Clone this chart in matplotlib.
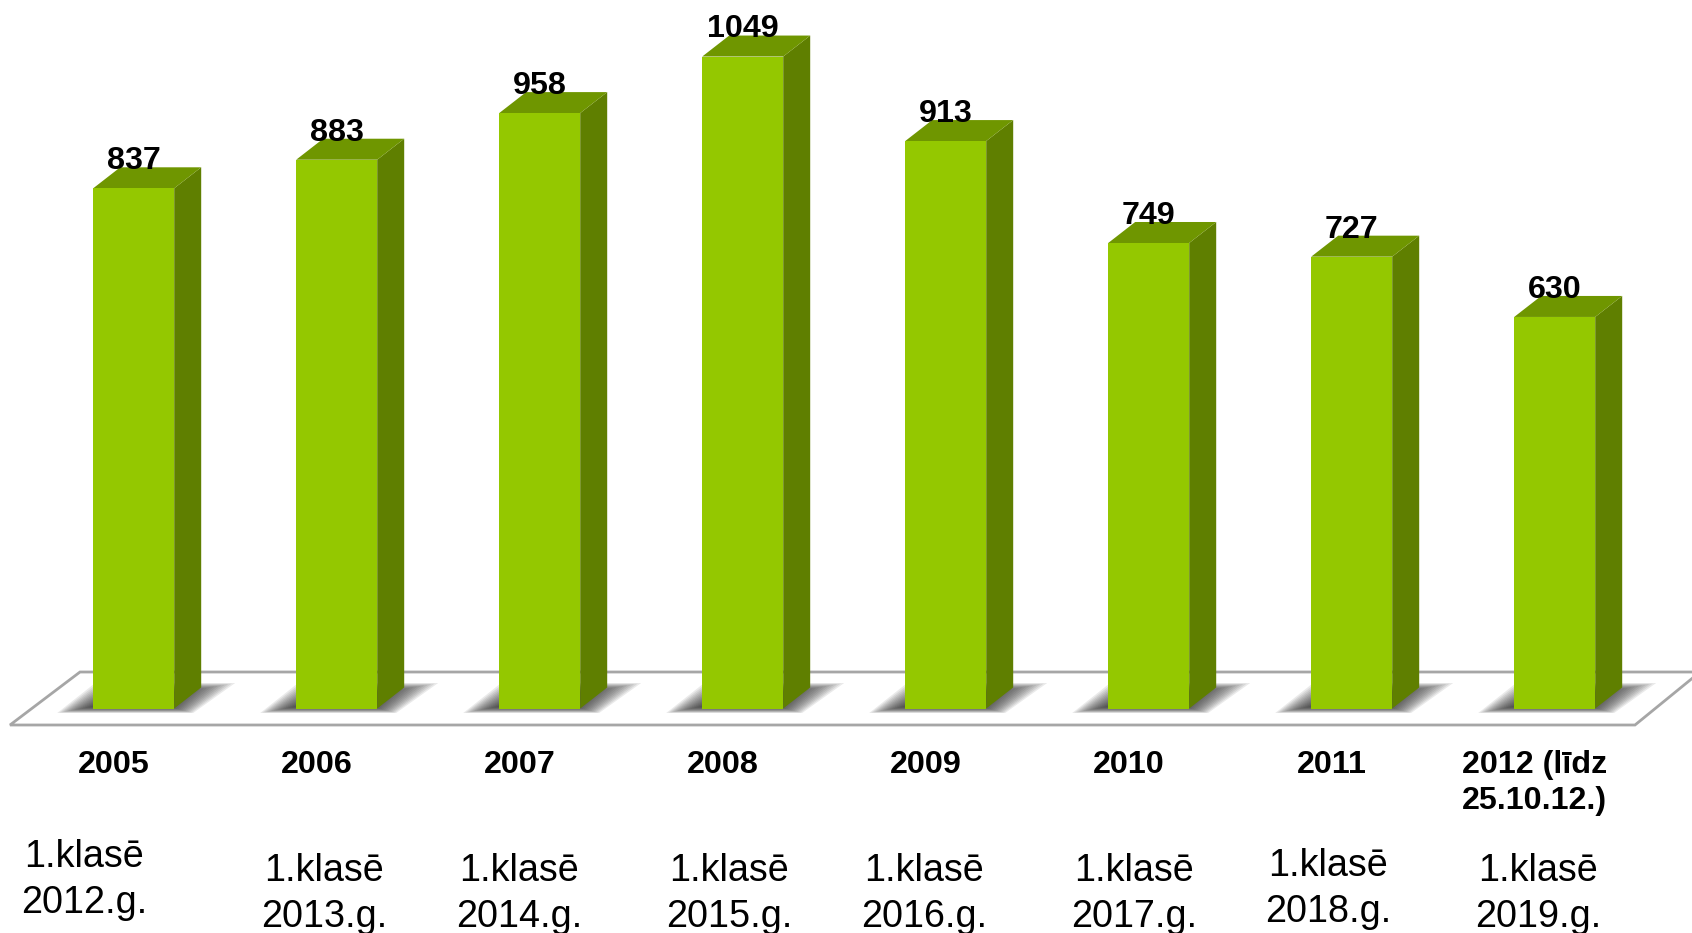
import matplotlib
matplotlib.use('Agg')
import matplotlib.pyplot as plt
from matplotlib.patches import Polygon

plt.rcParams['font.family'] = ['Liberation Sans', 'DejaVu Sans']

W, H = 1692, 933

years = ['2005', '2006', '2007', '2008', '2009', '2010', '2011', '2012 (līdz\n25.10.12.)']
values = [837, 883, 958, 1049, 913, 749, 727, 630]
notes = ['1.klasē\n2012.g.', '1.klasē\n2013.g.', '1.klasē\n2014.g.', '1.klasē\n2015.g.',
         '1.klasē\n2016.g.', '1.klasē\n2017.g.', '1.klasē\n2018.g.', '1.klasē\n2019.g.']

# pixel scales of the plot
x0, x_step = 133.7, 203.0
y0, y_scale = 708.5, 0.6215
bar_w = 81.0 / x_step
dx, dy = 27.0 / x_step, 21.0 / y_scale

# where the note texts sit (pixel centres of the first line)
note_x = [84, 324, 519, 729, 924, 1134, 1328, 1538]
note_y = [856, 870, 870, 870, 870, 870, 865, 870]

FRONT, SIDE, TOP = '#94c800', '#5f7f00', '#6f9600'


def fig_xy(x, y):
    return x / W, 1 - y / H


fig = plt.figure(figsize=(W / 100, H / 100), dpi=100)
ax = fig.add_axes([0, 0, 1, 1])
ax.set_xlim(-x0 / x_step, (W - x0) / x_step)
ax.set_ylim((y0 - H) / y_scale, y0 / y_scale)
ax.axis('off')

# floor
floor = [(10, 725), (80, 672), (1700, 672), (1635, 725)]
ax.add_patch(Polygon([fig_xy(*p) for p in floor], closed=True, fc='white', ec='#a6a6a6',
                     lw=2.0, transform=fig.transFigure, zorder=1))

# soft shadow under each bar, built from stacked polygons
for i in range(len(values)):
    left = x0 + x_step * i - bar_w * x_step / 2
    for k in range(16):
        s = 15 - k
        bot = 713 - s * 0.4
        top = 683 + s * 0.6
        pts = [(left - 36 + s * 2.2, bot), (left + 100 - s * 1.5, bot),
               (left + 142 - s * 3.5, top), (left + 2 + s * 2.2, top)]
        ax.add_patch(Polygon([fig_xy(*p) for p in pts], closed=True, fc='#333333', ec='none',
                             alpha=0.1, transform=fig.transFigure, zorder=2))

xs = range(len(values))
ax.bar(xs, values, width=bar_w, color=FRONT, zorder=4)
for i, v in zip(xs, values):
    l, r = i - bar_w / 2, i + bar_w / 2
    ax.add_patch(Polygon([(r, 0), (r + dx, dy), (r + dx, v + dy), (r, v)], fc=SIDE, ec='none', zorder=3))
    ax.add_patch(Polygon([(l, v), (r, v), (r + dx, v + dy), (l + dx, v + dy)], fc=TOP, ec='none', zorder=3))
    ax.annotate(str(v), (i, v), xytext=(0, 19.5), textcoords='offset points', ha='center', va='center',
                fontsize=23.2, fontweight='bold', color='black', zorder=6)
    # year label is set a little left of the bar
    fig.text(*fig_xy(113.5 + x_step * i, 750), years[i], ha='center', va='top', fontsize=23.2,
             fontweight='bold', color='black', linespacing=1.25, multialignment='left')
    fig.text(*fig_xy(note_x[i], note_y[i] - 17), notes[i], ha='center', va='top', fontsize=27.2,
             color='black', linespacing=1.34)

fig.savefig('out.png', dpi=100)
